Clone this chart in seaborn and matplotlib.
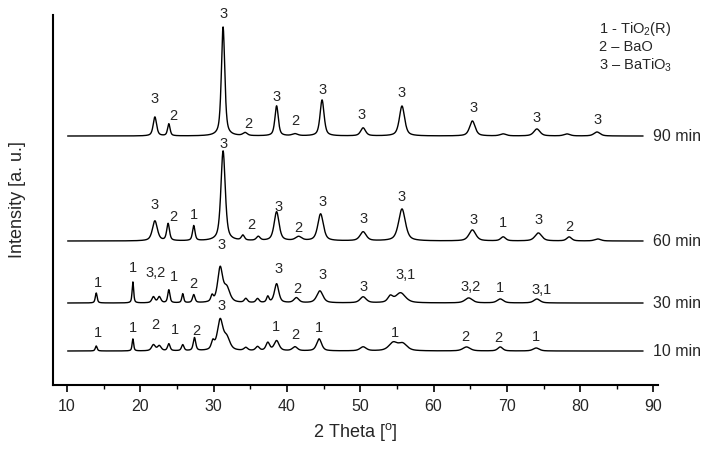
import numpy as np
import pandas as pd
import matplotlib
matplotlib.use("Agg")
import matplotlib.pyplot as plt
import seaborn as sns
from matplotlib.ticker import MultipleLocator

# Peak tables (2theta, height, fwhm); heights in px-like units
pos_90 = [22.0, 23.9, 31.3, 34.3, 38.6, 41.1, 44.8, 50.4, 55.7, 65.3, 69.5, 74.1, 78.2, 82.3]
hgt_90 = [19, 12, 109, 3, 30, 2, 36, 8, 30, 15, 2, 7, 2, 4]
wid_90 = [0.55, 0.4, 0.55, 0.7, 0.55, 0.9, 0.65, 0.8, 0.85, 0.9, 1.0, 1.0, 1.0, 1.0]

pos_60 = [22.0, 23.8, 27.3, 31.3, 34.0, 36.1, 38.6, 41.6, 44.6, 50.4, 55.7, 65.3, 69.5, 74.3, 78.5, 82.4]
hgt_60 = [20, 17, 15, 90, 5, 4, 29, 4, 27, 9, 32, 11, 4, 8, 4, 2]
wid_60 = [0.8, 0.45, 0.4, 0.7, 0.5, 0.6, 0.8, 1.0, 0.9, 1.0, 1.1, 1.1, 0.8, 1.1, 0.8, 1.0]

pos_30 = [14.0, 19.0, 21.8, 22.6, 23.9, 25.8, 27.3, 29.8, 30.9, 31.8, 34.4, 36.0,
          37.4, 38.6, 41.3, 44.5, 50.4, 54.1, 55.5, 64.8, 69.1, 74.1]
hgt_30 = [10, 21, 6, 6, 13, 9, 8, 6, 34, 14, 4, 4, 6, 19, 5, 12, 6, 6, 10, 5, 4, 4]
wid_30 = [0.3, 0.25, 0.5, 0.5, 0.35, 0.3, 0.4, 0.4, 0.8, 1.0, 0.5, 0.5,
          0.4, 0.7, 0.8, 1.0, 1.0, 0.8, 1.6, 1.2, 1.0, 1.0]

pos_10 = [14.0, 19.0, 21.8, 22.6, 23.9, 25.8, 27.4, 29.9, 30.9, 31.8, 34.4, 36.0,
          37.4, 38.6, 41.1, 44.4, 50.4, 54.5, 55.8, 64.5, 69.1, 74.0]
hgt_10 = [5, 12, 6, 5, 7, 6, 13, 8, 30, 12, 3, 4, 8, 10, 4, 12, 4, 8, 7, 4, 4, 3]
wid_10 = [0.3, 0.25, 0.6, 0.6, 0.4, 0.4, 0.4, 0.5, 0.9, 1.0, 0.6, 0.6,
          0.6, 0.8, 0.8, 0.8, 1.0, 1.4, 1.4, 1.2, 0.8, 1.0]

baselines = [249, 144, 82, 34]
sample_names = ["90 min", "60 min", "30 min", "10 min"]

# Phase labels above peaks: (2theta, y, text)
lab_x_90 = [22.0, 24.5, 31.3, 34.7, 38.6, 41.1, 44.8, 50.2, 55.7, 65.4, 74.1, 82.4]
lab_y_90 = [286, 269, 371, 261, 288, 264, 295, 270, 292, 277, 267, 265]
lab_t_90 = ["3", "2", "3", "2", "3", "2", "3", "3", "3", "3", "3", "3"]

lab_x_60 = [22.0, 24.5, 27.3, 31.3, 35.2, 38.8, 41.5, 44.8, 50.4, 55.7, 65.4, 69.5, 74.3, 78.5]
lab_y_60 = [180, 168, 170, 241, 160, 178, 157, 183, 166, 188, 165, 162, 165, 158]
lab_t_60 = ["3", "2", "1", "3", "2", "3", "2", "3", "3", "3", "3", "1", "3", "2"]

lab_x_30 = [14.2, 19.0, 22.1, 24.6, 27.2, 31.1, 38.8, 41.4, 44.8, 50.4, 56.2, 65.0, 69.1, 74.8]
lab_y_30 = [102, 117, 112, 108, 101, 140, 116, 96, 110, 98, 110, 98, 97, 95]
lab_t_30 = ["1", "1", "3,2", "1", "2", "3", "3", "2", "3", "3", "3,1", "3,2", "1", "3,1"]

lab_x_10 = [14.2, 19.0, 22.1, 24.7, 27.6, 31.1, 38.5, 41.1, 44.4, 54.7, 64.3, 68.9, 74.0]
lab_y_10 = [52, 57, 60, 55, 54, 79, 58, 50, 57, 52, 48, 47, 48]
lab_t_10 = ["1", "1", "2", "1", "2", "3", "1", "2", "1", "1", "2", "2", "1"]

legend_lines = ["1 - TiO$_\\mathregular{2}$(R)", "2 \u2013 BaO", "3 \u2013 BaTiO$_\\mathregular{3}$"]


def pattern(x, pos, hgt, wid, base):
    # pseudo-Voigt sum of the tabulated peaks on a flat background
    y = np.full_like(x, base, dtype=float)
    for p, h, w in zip(pos, hgt, wid):
        g = np.exp(-4 * np.log(2) * ((x - p) / w) ** 2)
        lor = 1.0 / (1.0 + 4 * ((x - p) / w) ** 2)
        y += h * (0.4 * g + 0.6 * lor)
    return y


two_theta = np.arange(10.1, 88.6, 0.02)
series = [(pos_90, hgt_90, wid_90), (pos_60, hgt_60, wid_60),
          (pos_30, hgt_30, wid_30), (pos_10, hgt_10, wid_10)]
frames = []
for name, base, (p, h, w) in zip(sample_names, baselines, series):
    frames.append(pd.DataFrame({"two_theta": two_theta,
                                "intensity": pattern(two_theta, p, h, w, base),
                                "sample": name}))
df = pd.concat(frames, ignore_index=True)

sns.set_theme(style="white")
plt.rcParams["font.family"] = ["Liberation Sans", "DejaVu Sans"]
plt.rcParams["mathtext.fontset"] = "custom"
plt.rcParams["mathtext.rm"] = "Liberation Sans"

fig = plt.figure(figsize=(7.12, 4.5), dpi=100)
ax = fig.add_axes([0.0744, 0.1444, 0.8496, 0.8222])

sns.lineplot(data=df, x="two_theta", y="intensity", units="sample", estimator=None,
             color="black", linewidth=1.0, ax=ax, legend=False)

ax.set_xlim(8.1, 90.6)
ax.set_ylim(0, 370)
ax.set_xlabel("")
ax.set_ylabel("")
ax.set_yticks([])
ax.xaxis.set_major_locator(MultipleLocator(10))
ax.xaxis.set_minor_locator(MultipleLocator(5))
ax.tick_params(axis="x", which="major", direction="out", length=5, width=1.2,
               bottom=True, labelsize=11.5, pad=5, color="black")
ax.tick_params(axis="x", which="minor", direction="out", length=3, width=1.0,
               bottom=True, color="black")
for side in ["top", "right"]:
    ax.spines[side].set_visible(False)
for side in ["left", "bottom"]:
    ax.spines[side].set_color("black")
    ax.spines[side].set_linewidth(1.5)

# peak phase labels
for xs, ys, ts in [(lab_x_90, lab_y_90, lab_t_90), (lab_x_60, lab_y_60, lab_t_60),
                   (lab_x_30, lab_y_30, lab_t_30), (lab_x_10, lab_y_10, lab_t_10)]:
    for xv, yv, tv in zip(xs, ys, ts):
        ax.text(xv, yv, tv, ha="center", va="center", fontsize=10.5, clip_on=False)

# sample names at the right end of each trace
for name, base in zip(sample_names, baselines):
    ax.text(89.9, base, name, ha="left", va="center", fontsize=11.5, clip_on=False)

# phase key
for i, line in enumerate(legend_lines):
    ax.text(82.6, 356 - 18 * i, line, ha="left", va="center", fontsize=10.5, clip_on=False)

fig.text(355 / 712, 1 - 432 / 450, "2 Theta [$^\\mathregular{o}$]", ha="center", va="center", fontsize=13)
fig.text(18 / 712, 1 - 200 / 450, "Intensity [a. u.]", ha="center", va="center",
         rotation=90, fontsize=13)

fig.savefig("out.png", dpi=100)
